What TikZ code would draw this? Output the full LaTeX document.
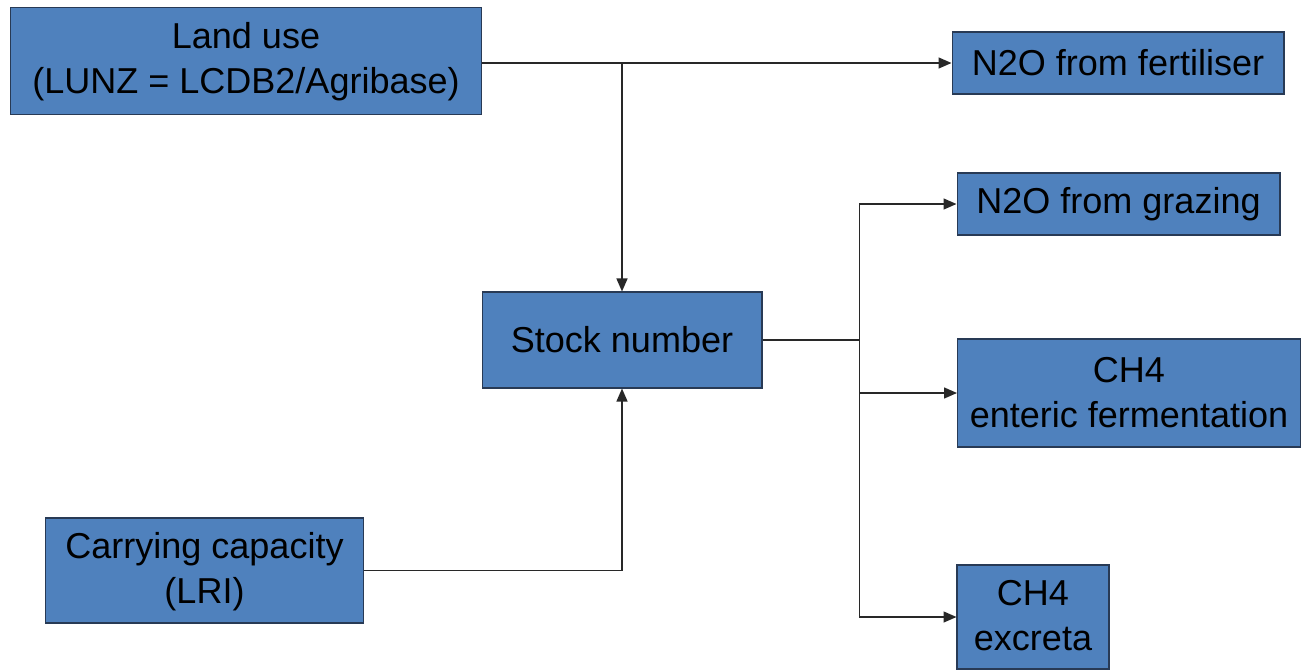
\documentclass[tikz,border=0pt]{standalone}
\usepackage{fontspec}
\setmainfont{Liberation Sans}
\usepackage{xcolor}
\usetikzlibrary{positioning,arrows.meta,calc}
\definecolor{boxblue}{RGB}{79,129,189}
\definecolor{boxline}{RGB}{40,58,85}
\definecolor{linkgray}{RGB}{40,40,40}
\tikzset{
  flowbox/.style={draw=boxline, line width=0.6pt, fill=boxblue, inner sep=0pt, align=center,
    font=\fontsize{20.5}{25.6}\selectfont},
  link/.style={draw=linkgray, line width=0.8pt, -{Triangle[length=0.26cm, width=0.22cm]}},
  plainlink/.style={draw=linkgray, line width=0.8pt}
}

\begin{document}
\begin{tikzpicture}[x=0.02cm, y=-0.02cm]
  \useasboundingbox (0,0) rectangle (1302,670);
  \node[flowbox, minimum width=9.44cm, minimum height=2.14cm, text depth=0.12cm] (land) at (246,61) {Land use\\(LUNZ = LCDB2/Agribase)};
  \node[flowbox, minimum width=6.64cm, minimum height=1.24cm] (fert) at (1118,63) {N2O from fertiliser};
  \node[flowbox, minimum width=6.46cm, minimum height=1.24cm] (graz) at (1118.5,204) {N2O from grazing};
  \node[flowbox, minimum width=5.6cm, minimum height=1.92cm] (stock) at (622,340) {Stock number};
  \node[flowbox, minimum width=6.86cm, minimum height=2.16cm] (enteric) at (1129,393) {CH4\\enteric fermentation};
  \node[flowbox, minimum width=6.38cm, minimum height=2.1cm, text depth=0.12cm] (carry) at (204.5,570.5) {Carrying capacity\\(LRI)};
  \node[flowbox, minimum width=3.04cm, minimum height=2.08cm, text depth=0.08cm] (excreta) at (1033,617) {CH4\\excreta};
  \coordinate (split) at (stock.north |- fert.west);
  \coordinate (bus) at ($(stock.east)+(97,0)$);
  \draw[link] (land.east |- fert.west) -- (fert.west);
  \draw[link] (split) -- (stock.north);
  \draw[link] (carry.east) -| (stock.south);
  \draw[plainlink] (stock.east) -- (bus);
  \draw[link] (bus) |- (graz.west);
  \draw[link] (bus) |- (enteric.west);
  \draw[link] (bus) |- (excreta.west);
\end{tikzpicture}
\end{document}
